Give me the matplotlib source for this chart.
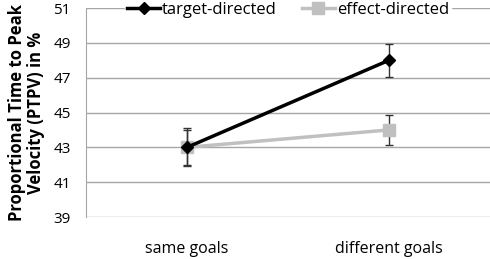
import matplotlib.pyplot as plt
from matplotlib.lines import Line2D
import numpy as np

plt.rcParams["font.family"] = ["Open Sans", "DejaVu Sans"]

categories = ["same goals", "different goals"]
target_directed = [43.0, 48.0]
target_err = [1.1, 0.95]
effect_directed = [43.0, 44.0]
effect_err = [1.0, 0.85]
yticks = [39, 41, 43, 45, 47, 49, 51]

fig = plt.figure(figsize=(4.9, 2.59), dpi=100)
ax = fig.add_axes([86 / 490, 1 - 217 / 259, 1 - 86 / 490, 209 / 259])

x = np.arange(len(categories))
grid_c = "#a6a6a6"
gray = "#c0c0c0"
ax.errorbar(x, target_directed, yerr=target_err, color="black", lw=2.5,
            marker="D", ms=6.5, ecolor="#333333", elinewidth=1, capsize=3,
            capthick=1, zorder=4)
ax.errorbar(x, effect_directed, yerr=effect_err, color=gray, lw=2.5,
            marker="s", ms=9, ecolor="#333333", elinewidth=1, capsize=3,
            capthick=1, zorder=3)

ax.set_xlim(-0.5, 1.5)
ax.set_ylim(39, 51)
ax.set_yticks(yticks)
ax.set_xticks(x)
ax.set_xticklabels(categories, fontsize=11.5)
ax.tick_params(axis="y", length=0, pad=11, labelsize=11)
ax.tick_params(axis="x", length=0, pad=17)
ax.yaxis.grid(True, color=grid_c, lw=1)
ax.set_axisbelow(True)
for s in ["top", "right", "bottom"]:
    ax.spines[s].set_visible(False)
ax.spines["left"].set_color(grid_c)

ax.set_ylabel("Proportional Time to Peak\nVelocity (PTPV) in %", fontsize=12,
              fontweight="bold", labelpad=6, linespacing=1.05)

handles = [
    Line2D([], [], color="black", lw=2.5, marker="D", ms=6.5),
    Line2D([], [], color=gray, lw=2.5, marker="s", ms=9),
]
leg = ax.legend(handles, ["target-directed", "effect-directed"], loc="center",
                bbox_to_anchor=(0.5, 0.99), ncol=2, frameon=True,
                fontsize=12, handlelength=2.0, columnspacing=1.5,
                borderpad=0.1, handletextpad=0.1)
leg.get_frame().set_edgecolor("white")
leg.get_frame().set_facecolor("white")
leg.get_frame().set_alpha(1)
leg.get_frame().set_boxstyle("square", pad=0)

fig.savefig("out.png", dpi=100)
